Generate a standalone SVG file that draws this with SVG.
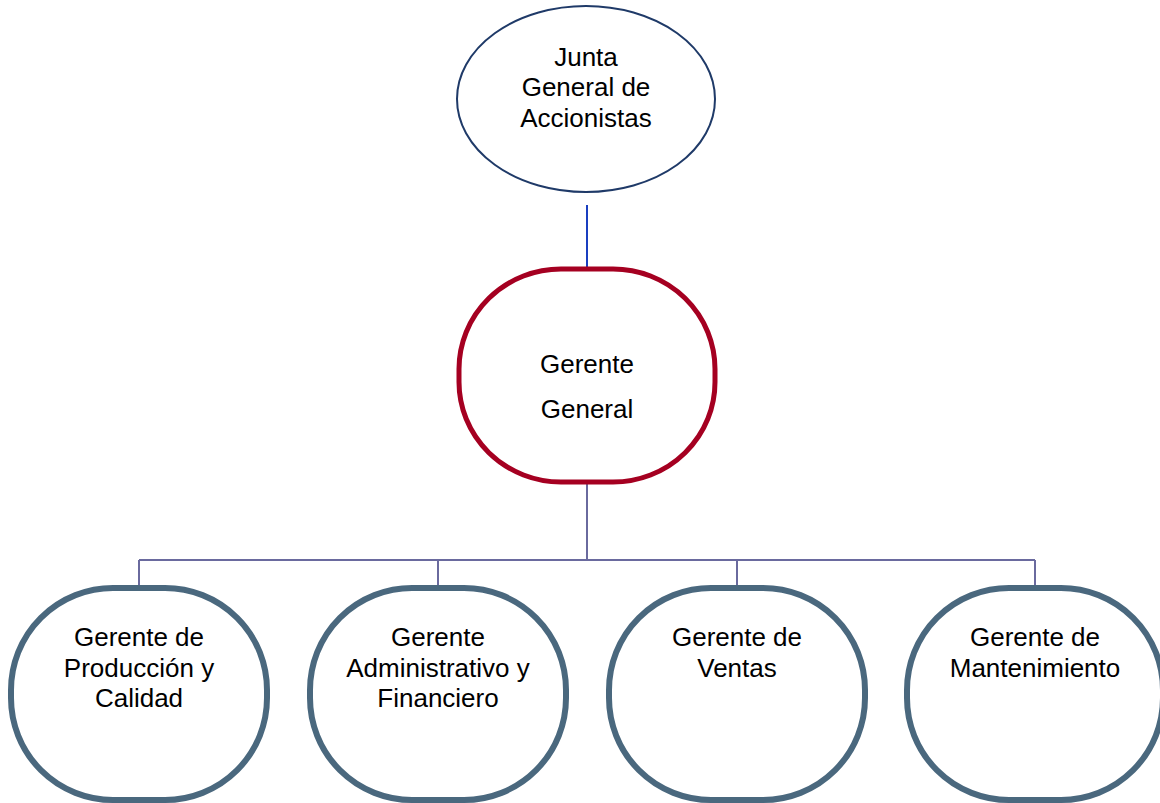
<svg xmlns="http://www.w3.org/2000/svg" width="1160" height="803" viewBox="0 0 1160 803">
<style>
text{font-family:"Liberation Sans",Arial,sans-serif;font-size:26px;fill:#000;text-anchor:middle}
.sub{fill:#fff;stroke:#4a687e;stroke-width:6}
.conn{stroke:#6a6a9e;stroke-width:2;fill:none}
</style>
<rect width="1160" height="803" fill="#fff"/>
<g id="connectors">
<line x1="587" y1="205" x2="587" y2="269" stroke="#1a3fc0" stroke-width="2"/>
<path class="conn" d="M587,484 V560 M139,560 H1035 M139,560 V587 M438,560 V587 M737,560 V587 M1035,560 V587"/>
</g>
<g id="junta">
<ellipse cx="586" cy="99" rx="129" ry="93" fill="#fff" stroke="#1f3a68" stroke-width="2"/>
<text x="586" y="66">Junta</text>
<text x="586" y="96">General de</text>
<text x="586" y="127">Accionistas</text>
</g>
<g id="gerente-general">
<rect x="459" y="269" width="256" height="213" rx="102" ry="100" fill="#fff" stroke="#a50021" stroke-width="5"/>
<text x="587" y="373">Gerente</text>
<text x="587" y="418">General</text>
</g>
<g id="produccion">
<rect class="sub" x="11" y="588" width="256" height="212" rx="102" ry="102"/>
<text x="139" y="646">Gerente de</text>
<text x="139" y="677">Producción y</text>
<text x="139" y="707">Calidad</text>
</g>
<g id="administrativo">
<rect class="sub" x="310" y="588" width="256" height="212" rx="102" ry="102"/>
<text x="438" y="646">Gerente</text>
<text x="438" y="677">Administrativo y</text>
<text x="438" y="707">Financiero</text>
</g>
<g id="ventas">
<rect class="sub" x="609" y="588" width="256" height="212" rx="102" ry="102"/>
<text x="737" y="646">Gerente de</text>
<text x="737" y="677">Ventas</text>
</g>
<g id="mantenimiento">
<rect class="sub" x="907" y="588" width="256" height="212" rx="102" ry="102"/>
<text x="1035" y="646">Gerente de</text>
<text x="1035" y="677">Mantenimiento</text>
</g>
</svg>
